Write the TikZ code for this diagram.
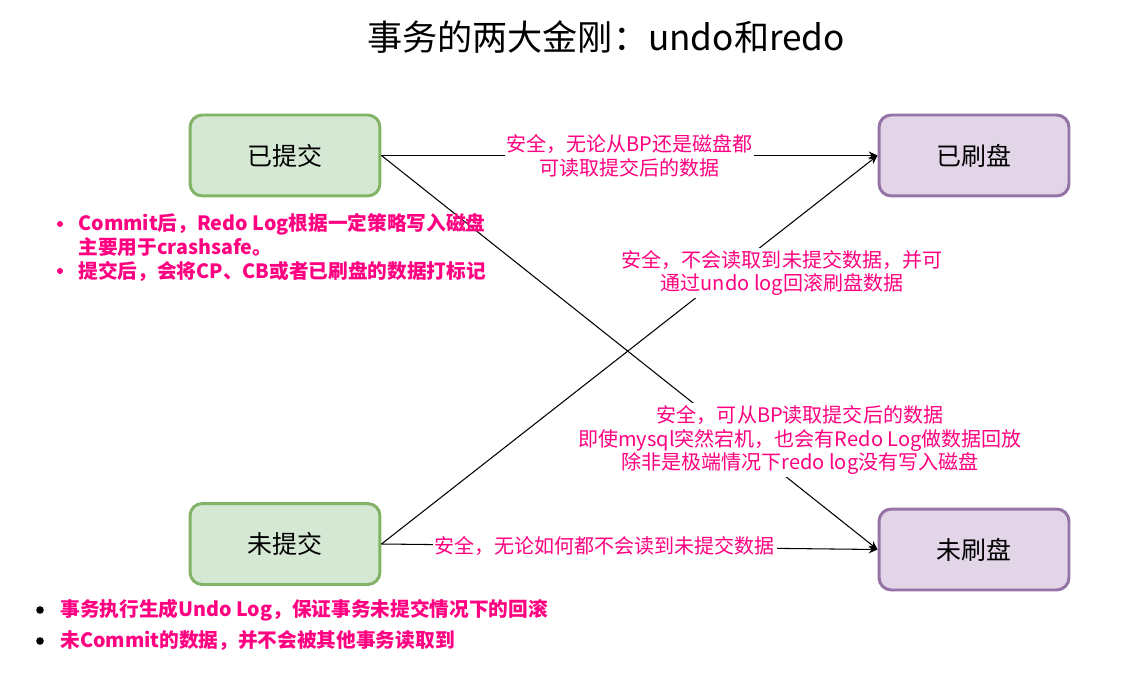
\documentclass[tikz,border=0pt]{standalone}
\usepackage{fontspec}
\setmainfont{Noto Sans CJK SC}
\usepackage{tikz}
\usetikzlibrary{arrows.meta}

\definecolor{hotpink}{RGB}{255,0,128}
\definecolor{greenfill}{HTML}{D5E8D4}
\definecolor{greenline}{HTML}{82B366}
\definecolor{purplefill}{HTML}{E1D5E7}
\definecolor{purpleline}{HTML}{9673A6}

\begin{document}
\begin{tikzpicture}[x=0.02cm, y=-0.02cm,
    txbox/.style={rectangle, rounded corners=7pt, line width=1.7pt, minimum width=3.8cm, minimum height=1.62cm, font=\fontsize{14.2}{17}\selectfont},
    todo/.style={txbox, draw=greenline, fill=greenfill},
    done/.style={txbox, draw=purpleline, fill=purplefill},
    arr/.style={-{Stealth[length=5pt, width=4.5pt]}, line width=0.6pt, draw=black},
    lbl/.style={fill=white, inner sep=1pt, align=center, text=hotpink, font=\fontsize{11.4}{13.6}\selectfont},
    note/.style={anchor=west, inner sep=0pt, text=hotpink, font=\fontsize{11.2}{13}\selectfont\bfseries}]

        \useasboundingbox (0,0) rectangle (1131,678);

        % Title
        \node (title) at (606,37) {\fontsize{20}{24}\selectfont 事务的两大金刚：undo和redo};

        % Transaction states
        \node[todo] (commit) at (285,155.5) {已提交};
        \node[todo] (uncommit) at (285,544) {未提交};

        % Flush states
        \node[done] (flushed) at (974,155.5) {已刷盘};
        \node[done] (unflushed) at (974,549.5) {未刷盘};

        % Connections
        \draw[arr] (commit.east) -- node[lbl] (lblA) {安全，无论从BP还是磁盘都\\可读取提交后的数据} (flushed.west);
        \draw[arr] (commit.east) -- (unflushed.west);
        \draw[arr] (uncommit.east) -- (flushed.west);
        \draw[arr] (uncommit.east) -- node[lbl, pos=0.45] (lblD) {安全，无论如何都不会读到未提交数据} (unflushed.west);

        % Labels of the crossing edges
        \node[lbl] (lblB) at (800,440) {安全，可从BP读取提交后的数据\\即使mysql突然宕机，也会有Redo Log做数据回放\\除非是极端情况下redo log没有写入磁盘};
        \node[lbl] (lblC) at (782,273) {安全，不会读取到未提交数据，并可\\通过undo log回滚刷盘数据};

        % Notes on committed
        \foreach \y in {224,271}
            \fill[hotpink] (60,\y) circle (3);
        \node[note] (noteA1) at (78,224) {Commit后，Redo Log根据一定策略写入磁盘};
        \node[note] (noteA2) at (78,247.5) {主要用于crashsafe。};
        \node[note] (noteA3) at (78,271) {提交后，会将CP、CB或者已刷盘的数据打标记};

        % Notes on uncommitted
        \foreach \y in {610,641}
            \fill[black] (40,\y) circle (3.8);
        \node[note] (noteB1) at (60,610) {事务执行生成Undo Log，保证事务未提交情况下的回滚};
        \node[note] (noteB2) at (60,641) {未Commit的数据，并不会被其他事务读取到};

\end{tikzpicture}
\end{document}
